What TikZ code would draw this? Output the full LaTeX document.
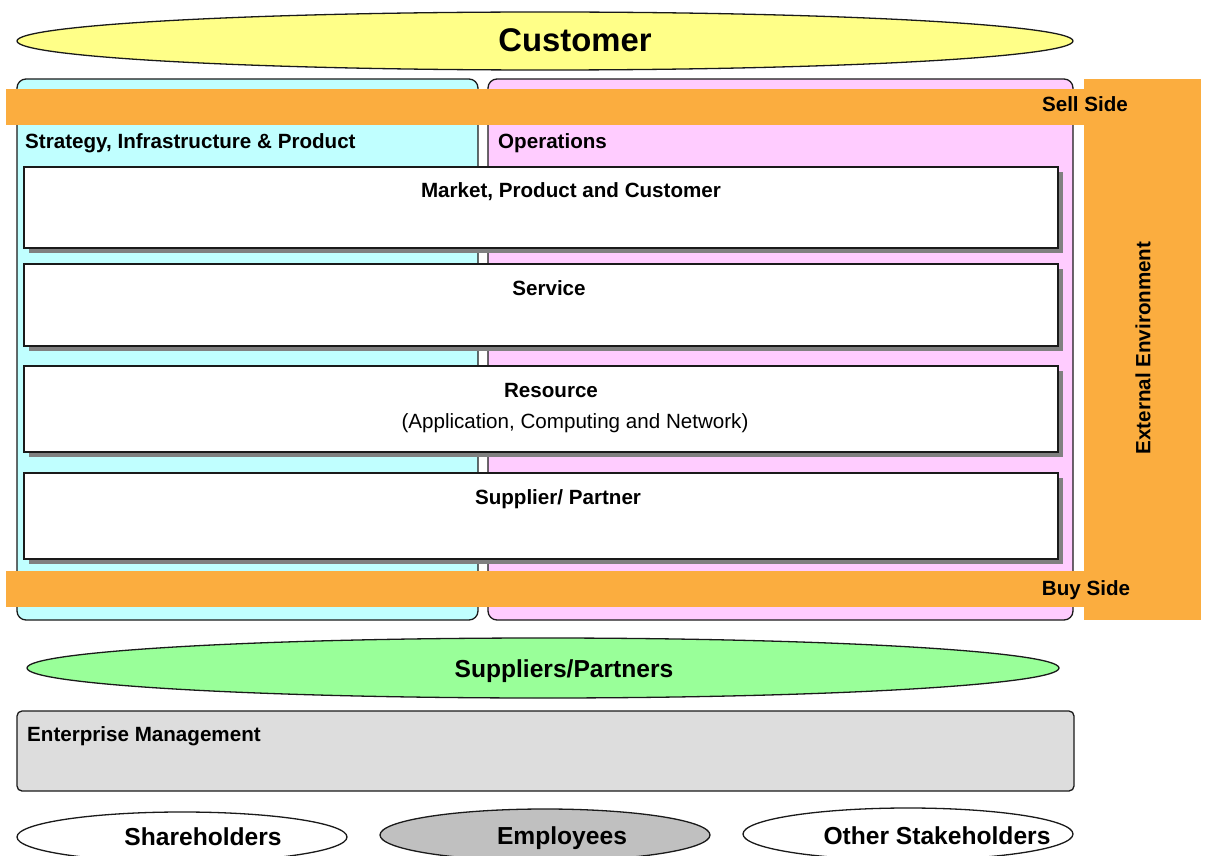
\documentclass[tikz,border=0pt]{standalone}
\usepackage{fontspec}
\setmainfont{Liberation Sans}
\definecolor{custyellow}{HTML}{FFFF88}
\definecolor{stratcyan}{HTML}{C0FFFF}
\definecolor{opspink}{HTML}{FFCCFF}
\definecolor{sideorange}{HTML}{FBAD3F}
\definecolor{suppgreen}{HTML}{99FF99}
\definecolor{entgrey}{HTML}{DDDDDD}
\definecolor{empgrey}{HTML}{C0C0C0}
\definecolor{shadowgrey}{HTML}{808080}
\definecolor{ink}{HTML}{1A1A1A}
\newcommand{\labelsize}{\fontsize{20.6}{24}\selectfont}
\newcommand{\partysize}{\fontsize{24.6}{29}\selectfont}
\newcommand{\custsize}{\fontsize{32.8}{38}\selectfont}

\begin{document}
\begin{tikzpicture}[x=1pt, y=-1pt, every node/.style={text=black, inner sep=0pt},
  heading/.style={font=\labelsize\bfseries, anchor=base west},
  layertext/.style={font=\labelsize\bfseries, anchor=base},
  partytext/.style={font=\partysize\bfseries, anchor=base}]
  \useasboundingbox (0,0) rectangle (1205,856);
  \clip (0,0) rectangle (1205,856);

  % Customer on top.
  \draw[ink, line width=1.3pt, fill=custyellow] (545,41) ellipse [x radius=528, y radius=29];
  \node[font=\custsize\bfseries, anchor=base] (customer) at (575,52) {Customer};

  % The two vertical groupings.
  \draw[ink, line width=1.3pt, fill=stratcyan, rounded corners=9pt] (17,79) rectangle (478,620);
  \draw[ink, line width=1.3pt, fill=opspink, rounded corners=9pt] (488,79) rectangle (1073,620);

  % Sell side, buy side and the external environment.
  \fill[sideorange] (1084,79) rectangle (1201,620);
  \fill[sideorange] (6,89) rectangle (1084,125);
  \fill[sideorange] (6,571) rectangle (1084,607);
  \node[layertext] (sell) at (1085,112) {Sell Side};
  \node[layertext] (buy) at (1086,595) {Buy Side};
  \node[font=\labelsize\bfseries, rotate=90] (external) at (1143,348) {External Environment};

  \node[heading] (strategy) at (25,149) {Strategy, Infrastructure \& Product};
  \node[heading] (operations) at (498,149) {Operations};

  % Horizontal layers, each with a grey drop shadow.
  \foreach \top/\bot in {167/248, 264/346, 366/452, 473/559} {
    \fill[shadowgrey] (29,\top+5) rectangle (1063,\bot+5);
    \draw[ink, line width=1.3pt, fill=white] (24,\top) rectangle (1058,\bot);
  }
  \node[layertext] (market) at (571,197) {Market, Product and Customer};
  \node[layertext] (service) at (549,295) {Service};
  \node[layertext] (resource) at (551,397) {Resource};
  \node[font=\labelsize, anchor=base] (resourcesub) at (575,428) {(Application, Computing and Network)};
  \node[layertext] (supplier) at (558,504) {Supplier/ Partner};

  % Suppliers and enterprise management.
  \draw[ink, line width=1.3pt, fill=suppgreen] (543,668) ellipse [x radius=516, y radius=30];
  \node[partytext] (suppliers) at (564,677) {Suppliers/Partners};
  \draw[ink, line width=1.3pt, fill=entgrey, rounded corners=5pt] (17,711) rectangle (1074,791);
  \node[heading] (enterprise) at (27,741) {Enterprise Management};

  % Stakeholders along the bottom edge.
  \draw[ink, line width=1.3pt, fill=white] (182,837) ellipse [x radius=165, y radius=25];
  \draw[ink, line width=1.3pt, fill=empgrey] (545,835) ellipse [x radius=165, y radius=26];
  \draw[ink, line width=1.3pt, fill=white] (908,834) ellipse [x radius=165, y radius=26];
  \node[partytext] (shareholders) at (203,845) {Shareholders};
  \node[partytext] (employees) at (562,844) {Employees};
  \node[partytext] (stakeholders) at (937,844) {Other Stakeholders};
\end{tikzpicture}
\end{document}
